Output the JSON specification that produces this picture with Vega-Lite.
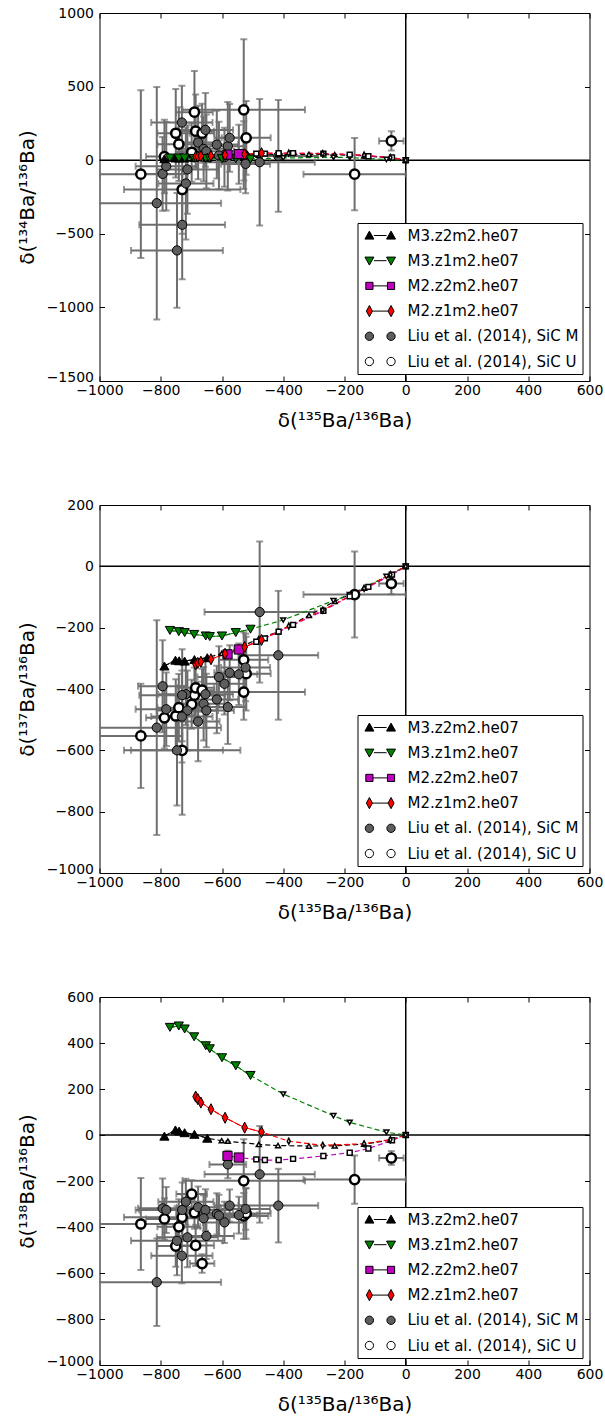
{
  "$schema": "https://vega.github.io/schema/vega-lite/v6.json",
  "background": "white",
  "padding": {"left": 16.5, "top": 5, "right": 3, "bottom": 5},
  "spacing": 66,
  "config": {
    "font": "DejaVu Sans",
    "view": {"stroke": "black", "strokeWidth": 1},
    "axis": {"grid": false, "domain": false, "format": "d", "tickColor": "black", "tickWidth": 1, "tickSize": -5, "labelFont": "DejaVu Sans", "labelFontSize": 14, "labelColor": "black", "titleFont": "DejaVu Sans", "titleFontSize": 20, "titleFontWeight": "normal", "titleColor": "black", "labelFlush": false, "labelOverlap": false},
    "axisX": {"labelPadding": 7.5, "titlePadding": 13},
    "axisY": {"labelPadding": 11, "titlePadding": 9},
    "legend": {"title": null, "orient": "bottom-right", "offset": 7, "strokeColor": "black", "fillColor": "white", "padding": 4, "labelFont": "DejaVu Sans", "labelFontSize": 15, "labelColor": "black", "labelLimit": 300, "symbolSize": 256, "labelOffset": 29, "rowPadding": 8.2, "cornerRadius": 0, "symbolOpacity": 1}
  },
  "datasets": {
    "series": [
      {"s": "M3.z2m2.he07"}, {"s": "M3.z1m2.he07"}, {"s": "M2.z2m2.he07"}, {"s": "M2.z1m2.he07"}, {"s": "Liu et al. (2014), SiC M"}, {"s": "Liu et al. (2014), SiC U"}
    ],
    "liu": [
      {"s": "Liu et al. (2014), SiC U", "x": -865, "xe": 135, "y134": -95, "e134": 570, "y137": -553, "e137": 170, "y138": -387, "e138": 200},
      {"s": "Liu et al. (2014), SiC U", "x": -788, "xe": 60, "y134": 25, "e134": 250, "y137": -494, "e137": 100, "y138": -365, "e138": 90},
      {"s": "Liu et al. (2014), SiC U", "x": -751, "xe": 60, "y134": 183, "e134": 300, "y137": -488, "e137": 120, "y138": -483, "e138": 90},
      {"s": "Liu et al. (2014), SiC U", "x": -741, "xe": 70, "y134": 109, "e134": 250, "y137": -461, "e137": 110, "y138": -399, "e138": 120},
      {"s": "Liu et al. (2014), SiC U", "x": -730, "xe": 190, "y134": -199, "e134": 300, "y137": -600, "e137": 210, "y138": -358, "e138": 100},
      {"s": "Liu et al. (2014), SiC U", "x": -699, "xe": 50, "y134": 54, "e134": 200, "y137": -450, "e137": 80, "y138": -257, "e138": 60},
      {"s": "Liu et al. (2014), SiC U", "x": -690, "xe": 60, "y134": 326, "e134": 280, "y137": -420, "e137": 90, "y138": -338, "e138": 70},
      {"s": "Liu et al. (2014), SiC U", "x": -686, "xe": 60, "y134": 197, "e134": 250, "y137": -396, "e137": 90, "y138": -480, "e138": 90},
      {"s": "Liu et al. (2014), SiC U", "x": -665, "xe": 40, "y134": 183, "e134": 200, "y137": -404, "e137": 70, "y138": -559, "e138": 40},
      {"s": "Liu et al. (2014), SiC U", "x": -529, "xe": 200, "y134": 342, "e134": 480, "y137": -410, "e137": 90, "y138": -199, "e138": 180},
      {"s": "Liu et al. (2014), SiC U", "x": -529, "xe": 80, "y134": 34, "e134": 230, "y137": -305, "e137": 90, "y138": -352, "e138": 100},
      {"s": "Liu et al. (2014), SiC U", "x": -521, "xe": 80, "y134": 152, "e134": 250, "y137": -350, "e137": 120, "y138": -341, "e138": 110},
      {"s": "Liu et al. (2014), SiC U", "x": -167, "xe": 167, "y134": -95, "e134": 245, "y137": -92, "e137": 140, "y138": -194, "e138": 105},
      {"s": "Liu et al. (2014), SiC U", "x": -47, "xe": 40, "y134": 131, "e134": 65, "y137": -56, "e137": 35, "y138": -100, "e138": 30},
      {"s": "Liu et al. (2014), SiC M", "x": -581, "xe": 60, "y134": 95, "e134": 300, "y137": -459, "e137": 120, "y138": -128, "e138": 60},
      {"s": "Liu et al. (2014), SiC M", "x": -477, "xe": 180, "y134": -14, "e134": 430, "y137": -149, "e137": 230, "y138": -171, "e138": 210},
      {"s": "Liu et al. (2014), SiC M", "x": -416, "xe": 130, "y134": 29, "e134": 380, "y137": -290, "e137": 210, "y138": -307, "e138": 160},
      {"s": "Liu et al. (2014), SiC M", "x": -794, "xe": 80, "y134": -93, "e134": 250, "y137": -391, "e137": 150, "y138": -319, "e138": 130},
      {"s": "Liu et al. (2014), SiC M", "x": -782, "xe": 100, "y134": -41, "e134": 300, "y137": -466, "e137": 120, "y138": -326, "e138": 100},
      {"s": "Liu et al. (2014), SiC M", "x": -718, "xe": 90, "y134": -158, "e134": 380, "y137": -417, "e137": 100, "y138": -290, "e138": 100},
      {"s": "Liu et al. (2014), SiC M", "x": -730, "xe": 140, "y134": -439, "e134": 370, "y137": -420, "e137": 150, "y138": -326, "e138": 120},
      {"s": "Liu et al. (2014), SiC M", "x": -678, "xe": 70, "y134": 120, "e134": 250, "y137": -506, "e137": 130, "y138": -314, "e138": 90},
      {"s": "Liu et al. (2014), SiC M", "x": -654, "xe": 90, "y134": 206, "e134": 250, "y137": -417, "e137": 110, "y138": -326, "e138": 90},
      {"s": "Liu et al. (2014), SiC M", "x": -660, "xe": 80, "y134": 77, "e134": 220, "y137": -448, "e137": 120, "y138": -362, "e138": 100},
      {"s": "Liu et al. (2014), SiC M", "x": -617, "xe": 70, "y134": 106, "e134": 230, "y137": -434, "e137": 110, "y138": -343, "e138": 90},
      {"s": "Liu et al. (2014), SiC M", "x": -592, "xe": 70, "y134": 20, "e134": 200, "y137": -383, "e137": 100, "y138": -380, "e138": 90},
      {"s": "Liu et al. (2014), SiC M", "x": -575, "xe": 50, "y134": 152, "e134": 230, "y137": -347, "e137": 90, "y138": -307, "e138": 70},
      {"s": "Liu et al. (2014), SiC M", "x": -545, "xe": 60, "y134": 40, "e134": 200, "y137": -352, "e137": 100, "y138": -348, "e138": 80},
      {"s": "Liu et al. (2014), SiC M", "x": -523, "xe": 80, "y134": -25, "e134": 200, "y137": -330, "e137": 110, "y138": -322, "e138": 90},
      {"s": "Liu et al. (2014), SiC M", "x": -713, "xe": 100, "y134": -63, "e134": 300, "y137": -470, "e137": 130, "y138": -445, "e138": 130},
      {"s": "Liu et al. (2014), SiC M", "x": -651, "xe": 90, "y134": 60, "e134": 250, "y137": -470, "e137": 120, "y138": -439, "e138": 100},
      {"s": "Liu et al. (2014), SiC M", "x": -747, "xe": 150, "y134": -613, "e134": 390, "y137": -600, "e137": 180, "y138": -460, "e138": 150},
      {"s": "Liu et al. (2014), SiC M", "x": -731, "xe": 100, "y134": 256, "e134": 250, "y137": -490, "e137": 150, "y138": -525, "e138": 120},
      {"s": "Liu et al. (2014), SiC M", "x": -813, "xe": 210, "y134": -292, "e134": 790, "y137": -526, "e137": 350, "y138": -640, "e138": 190},
      {"s": "Liu et al. (2014), SiC M", "x": -610, "xe": 70, "y134": 32, "e134": 230, "y137": -361, "e137": 100, "y138": -350, "e138": 90}
    ],
    "models": [
      {"s": "M3.z2m2.he07", "ph": "C", "x": -788, "y134": 10, "y137": -325, "y138": -5},
      {"s": "M3.z2m2.he07", "ph": "C", "x": -752, "y134": 15, "y137": -306, "y138": 22},
      {"s": "M3.z2m2.he07", "ph": "C", "x": -740, "y134": 15, "y137": -308, "y138": 17},
      {"s": "M3.z2m2.he07", "ph": "C", "x": -722, "y134": 15, "y137": -309, "y138": 10},
      {"s": "M3.z2m2.he07", "ph": "C", "x": -690, "y134": 18, "y137": -304, "y138": 3},
      {"s": "M3.z2m2.he07", "ph": "C", "x": -648, "y134": 20, "y137": -298, "y138": -14},
      {"s": "M3.z2m2.he07", "ph": "O", "x": -601, "y134": 25, "y137": -284, "y138": -25},
      {"s": "M3.z2m2.he07", "ph": "O", "x": -581, "y134": 25, "y137": -282, "y138": -27},
      {"s": "M3.z2m2.he07", "ph": "O", "x": -480, "y134": 35, "y137": -236, "y138": -41},
      {"s": "M3.z2m2.he07", "ph": "O", "x": -417, "y134": 38, "y137": -214, "y138": -46},
      {"s": "M3.z2m2.he07", "ph": "O", "x": -316, "y134": 40, "y137": -160, "y138": -48},
      {"s": "M3.z2m2.he07", "ph": "O", "x": -232, "y134": 38, "y137": -114, "y138": -47},
      {"s": "M3.z2m2.he07", "ph": "O", "x": -136, "y134": 30, "y137": -71, "y138": -40},
      {"s": "M3.z2m2.he07", "ph": "O", "x": -50, "y134": 15, "y137": -28, "y138": -22},
      {"s": "M3.z2m2.he07", "ph": "O", "x": 0, "y134": 0, "y137": 0, "y138": 0},
      {"s": "M3.z1m2.he07", "ph": "C", "x": -770, "y134": 15, "y137": -209, "y138": 468},
      {"s": "M3.z1m2.he07", "ph": "C", "x": -741, "y134": 15, "y137": -213, "y138": 474},
      {"s": "M3.z1m2.he07", "ph": "C", "x": -722, "y134": 15, "y137": -216, "y138": 461},
      {"s": "M3.z1m2.he07", "ph": "C", "x": -691, "y134": 12, "y137": -222, "y138": 427},
      {"s": "M3.z1m2.he07", "ph": "C", "x": -653, "y134": 12, "y137": -227, "y138": 388},
      {"s": "M3.z1m2.he07", "ph": "C", "x": -640, "y134": 12, "y137": -229, "y138": 375},
      {"s": "M3.z1m2.he07", "ph": "C", "x": -600, "y134": 10, "y137": -227, "y138": 336},
      {"s": "M3.z1m2.he07", "ph": "C", "x": -555, "y134": 10, "y137": -216, "y138": 301},
      {"s": "M3.z1m2.he07", "ph": "C", "x": -507, "y134": 8, "y137": -205, "y138": 259},
      {"s": "M3.z1m2.he07", "ph": "O", "x": -400, "y134": 15, "y137": -175, "y138": 178},
      {"s": "M3.z1m2.he07", "ph": "O", "x": -236, "y134": 20, "y137": -112, "y138": 84},
      {"s": "M3.z1m2.he07", "ph": "O", "x": -183, "y134": 18, "y137": -92, "y138": 55},
      {"s": "M3.z1m2.he07", "ph": "O", "x": -63, "y134": 5, "y137": -33, "y138": 12},
      {"s": "M3.z1m2.he07", "ph": "O", "x": 0, "y134": 0, "y137": 0, "y138": 0},
      {"s": "M2.z2m2.he07", "ph": "C", "x": -582, "y134": 38, "y137": -287, "y138": -91},
      {"s": "M2.z2m2.he07", "ph": "C", "x": -545, "y134": 42, "y137": -271, "y138": -98},
      {"s": "M2.z2m2.he07", "ph": "O", "x": -488, "y134": 45, "y137": -246, "y138": -106},
      {"s": "M2.z2m2.he07", "ph": "O", "x": -460, "y134": 45, "y137": -235, "y138": -109},
      {"s": "M2.z2m2.he07", "ph": "O", "x": -415, "y134": 47, "y137": -213, "y138": -109},
      {"s": "M2.z2m2.he07", "ph": "O", "x": -368, "y134": 48, "y137": -191, "y138": -104},
      {"s": "M2.z2m2.he07", "ph": "O", "x": -269, "y134": 45, "y137": -145, "y138": -91},
      {"s": "M2.z2m2.he07", "ph": "O", "x": -183, "y134": 38, "y137": -98, "y138": -77},
      {"s": "M2.z2m2.he07", "ph": "O", "x": -122, "y134": 27, "y137": -67, "y138": -59},
      {"s": "M2.z2m2.he07", "ph": "O", "x": -45, "y134": 18, "y137": -27, "y138": -23},
      {"s": "M2.z2m2.he07", "ph": "O", "x": 0, "y134": 0, "y137": 0, "y138": 0},
      {"s": "M2.z1m2.he07", "ph": "C", "x": -686, "y134": 25, "y137": -320, "y138": 167},
      {"s": "M2.z1m2.he07", "ph": "C", "x": -679, "y134": 25, "y137": -315, "y138": 156},
      {"s": "M2.z1m2.he07", "ph": "C", "x": -669, "y134": 28, "y137": -311, "y138": 141},
      {"s": "M2.z1m2.he07", "ph": "C", "x": -636, "y134": 30, "y137": -303, "y138": 112},
      {"s": "M2.z1m2.he07", "ph": "C", "x": -590, "y134": 35, "y137": -285, "y138": 75},
      {"s": "M2.z1m2.he07", "ph": "C", "x": -526, "y134": 40, "y137": -263, "y138": 32},
      {"s": "M2.z1m2.he07", "ph": "C", "x": -471, "y134": 48, "y137": -240, "y138": 13},
      {"s": "M2.z1m2.he07", "ph": "O", "x": -382, "y134": 48, "y137": -195, "y138": -27},
      {"s": "M2.z1m2.he07", "ph": "O", "x": -271, "y134": 45, "y137": -143, "y138": -45},
      {"s": "M2.z1m2.he07", "ph": "O", "x": -136, "y134": 35, "y137": -72, "y138": -38},
      {"s": "M2.z1m2.he07", "ph": "O", "x": -50, "y134": 18, "y137": -27, "y138": -20},
      {"s": "M2.z1m2.he07", "ph": "O", "x": 0, "y134": 0, "y137": 0, "y138": 0}
    ]
  },
  "resolve": {"scale": {"fill": "independent", "stroke": "independent", "shape": "independent", "strokeWidth": "independent"}, "legend": {"fill": "independent", "shape": "independent", "strokeWidth": "independent"}},
  "vconcat": [
    {
      "width": 490, "height": 368,
      "resolve": {"axis": {"x": "independent", "y": "independent"}},
      "layer": [
        {"data": {"values": [{"z": 0}]}, "mark": {"type": "rule", "color": "black", "strokeWidth": 1.5},
         "encoding": {"x": {"field": "z", "type": "quantitative", "scale": {"domain": [-1000, 600], "nice": false, "zero": false}, "axis": {"orient": "top", "labels": false, "title": null, "values": [-1000, -800, -600, -400, -200, 0, 200, 400, 600]}}}},
        {"data": {"values": [{"z": 0}]}, "mark": {"type": "rule", "color": "black", "strokeWidth": 1.5},
         "encoding": {"y": {"field": "z", "type": "quantitative", "scale": {"domain": [-1500, 1000], "nice": false, "zero": false}, "axis": {"orient": "right", "labels": false, "title": null, "values": [-1500, -1000, -500, 0, 500, 1000]}}}},
        {"data": {"name": "liu"}, "mark": {"type": "errorbar", "ticks": true, "size": 7, "thickness": 2, "color": "#6e6e6e", "clip": true},
         "encoding": {"x": {"field": "x", "type": "quantitative", "scale": {"domain": [-1000, 600], "nice": false, "zero": false}, "axis": null}, "xError": {"field": "xe"}, "y": {"field": "y134", "type": "quantitative", "scale": {"domain": [-1500, 1000], "nice": false, "zero": false}, "axis": null}}},
        {"data": {"name": "liu"}, "mark": {"type": "errorbar", "ticks": true, "size": 7, "thickness": 2, "color": "#6e6e6e", "clip": true},
         "encoding": {"x": {"field": "x", "type": "quantitative", "scale": {"domain": [-1000, 600], "nice": false, "zero": false}, "axis": null}, "y": {"field": "y134", "type": "quantitative", "scale": {"domain": [-1500, 1000], "nice": false, "zero": false}, "axis": null}, "yError": {"field": "e134"}}},
        {"data": {"name": "models"}, "mark": {"type": "line", "strokeWidth": 1.2, "strokeDash": [5, 3]},
         "encoding": {"x": {"field": "x", "type": "quantitative", "scale": {"domain": [-1000, 600], "nice": false, "zero": false}, "axis": null}, "y": {"field": "y134", "type": "quantitative", "scale": {"domain": [-1500, 1000], "nice": false, "zero": false}, "axis": null},
           "stroke": {"field": "s", "type": "nominal", "scale": {"domain": ["M3.z2m2.he07", "M3.z1m2.he07", "M2.z2m2.he07", "M2.z1m2.he07"], "range": ["black", "#008000", "#bf00bf", "#ff0000"]}, "legend": null}}},
        {"data": {"name": "models"}, "transform": [{"filter": "datum.ph == 'C'"}], "mark": {"type": "line", "strokeWidth": 1},
         "encoding": {"x": {"field": "x", "type": "quantitative", "scale": {"domain": [-1000, 600], "nice": false, "zero": false}, "axis": null}, "y": {"field": "y134", "type": "quantitative", "scale": {"domain": [-1500, 1000], "nice": false, "zero": false}, "axis": null},
           "stroke": {"field": "s", "type": "nominal", "scale": {"domain": ["M3.z2m2.he07", "M3.z1m2.he07", "M2.z2m2.he07", "M2.z1m2.he07"], "range": ["black", "#008000", "#bf00bf", "#ff0000"]}, "legend": null}}},
        {"data": {"name": "liu"}, "mark": {"type": "point", "shape": "circle", "filled": true, "stroke": "black", "opacity": 1, "size": 85},
         "encoding": {"x": {"field": "x", "type": "quantitative", "scale": {"domain": [-1000, 600], "nice": false, "zero": false}, "axis": {"orient": "bottom", "title": "δ(¹³⁵Ba/¹³⁶Ba)", "values": [-1000, -800, -600, -400, -200, 0, 200, 400, 600]}},
           "y": {"field": "y134", "type": "quantitative", "scale": {"domain": [-1500, 1000], "nice": false, "zero": false}, "axis": {"orient": "left", "title": "δ(¹³⁴Ba/¹³⁶Ba)", "values": [-1500, -1000, -500, 0, 500, 1000], "labelBaseline": {"condition": {"test": "datum.value == -1500", "value": "alphabetic"}, "value": "middle"}}},
           "fill": {"field": "s", "type": "nominal", "scale": {"domain": ["M3.z2m2.he07", "M3.z1m2.he07", "M2.z2m2.he07", "M2.z1m2.he07", "Liu et al. (2014), SiC M", "Liu et al. (2014), SiC U"], "range": ["black", "#008000", "#bf00bf", "#ff0000", "#5e5e5e", "white"]}},
           "stroke": {"value": "black"},
           "strokeWidth": {"condition": {"test": "datum.s == 'Liu et al. (2014), SiC U'", "value": 2.5}, "value": 1}}},
        {"data": {"name": "models"}, "mark": {"type": "point", "filled": true, "stroke": "black", "opacity": 1},
         "encoding": {"x": {"field": "x", "type": "quantitative", "scale": {"domain": [-1000, 600], "nice": false, "zero": false}, "axis": null}, "y": {"field": "y134", "type": "quantitative", "scale": {"domain": [-1500, 1000], "nice": false, "zero": false}, "axis": null},
           "fill": {"condition": {"test": "datum.ph == 'O'", "value": "white"}, "field": "s", "type": "nominal", "scale": {"domain": ["M3.z2m2.he07", "M3.z1m2.he07", "M2.z2m2.he07", "M2.z1m2.he07", "Liu et al. (2014), SiC M", "Liu et al. (2014), SiC U"], "range": ["black", "#008000", "#bf00bf", "#ff0000", "#5e5e5e", "white"]}},
           "stroke": {"value": "black"},
           "shape": {"condition": [{"test": "datum.s == 'M3.z2m2.he07'", "value": "triangle-up"}, {"test": "datum.s == 'M3.z1m2.he07'", "value": "triangle-down"}, {"test": "datum.s == 'M2.z2m2.he07'", "value": "square"}], "value": "M0,-1.2L0.62,0L0,1.2L-0.62,0Z"},
           "size": {"condition": {"test": "datum.ph == 'O'", "value": 24}, "value": 85},
           "strokeWidth": {"condition": {"test": "datum.ph == 'O'", "value": 1.5}, "value": 1}}},
        {"data": {"name": "series"}, "mark": {"type": "point", "filled": true, "stroke": "black", "opacity": 0},
         "encoding": {
           "fill": {"field": "s", "type": "nominal", "scale": {"domain": ["M3.z2m2.he07", "M3.z1m2.he07", "M2.z2m2.he07", "M2.z1m2.he07", "Liu et al. (2014), SiC M", "Liu et al. (2014), SiC U"], "range": ["black", "#008000", "#bf00bf", "#ff0000", "#5e5e5e", "white"]}},
           "stroke": {"value": "black"},
           "strokeWidth": {"field": "s", "type": "ordinal", "scale": {"domain": ["M3.z2m2.he07", "M3.z1m2.he07", "M2.z2m2.he07", "M2.z1m2.he07", "Liu et al. (2014), SiC M", "Liu et al. (2014), SiC U"], "range": [1, 1, 1, 1, 1, 2.2]}},
           "shape": {"field": "s", "type": "nominal", "scale": {"domain": ["M3.z2m2.he07", "M3.z1m2.he07", "M2.z2m2.he07", "M2.z1m2.he07", "Liu et al. (2014), SiC M", "Liu et al. (2014), SiC U"], "range": ["M-0.635,0.45L-0.075,-0.55L0.485,0.45Z M2.07,0.45L2.63,-0.55L3.19,0.45Z M0.485,0L2.07,0", "M-0.635,-0.45L-0.075,0.55L0.485,-0.45Z M2.07,-0.45L2.63,0.55L3.19,-0.45Z M0.485,0L2.07,0", "M-0.525,-0.45H0.375V0.45H-0.525Z M2.18,-0.45H3.08V0.45H2.18Z M0.375,0L2.18,0", "M-0.075,-0.7L0.305,0L-0.075,0.7L-0.455,0Z M2.63,-0.7L3.01,0L2.63,0.7L2.25,0Z M0.305,0L2.25,0", "M-0.595,0A0.52,0.52 0 1,0 0.445,0A0.52,0.52 0 1,0 -0.595,0Z M2.11,0A0.52,0.52 0 1,0 3.15,0A0.52,0.52 0 1,0 2.11,0Z", "M-0.595,0A0.52,0.52 0 1,0 0.445,0A0.52,0.52 0 1,0 -0.595,0Z M2.11,0A0.52,0.52 0 1,0 3.15,0A0.52,0.52 0 1,0 2.11,0Z"]}}}}
      ]
    },
    {
      "width": 490, "height": 368,
      "resolve": {"axis": {"x": "independent", "y": "independent"}},
      "layer": [
        {"data": {"values": [{"z": 0}]}, "mark": {"type": "rule", "color": "black", "strokeWidth": 1.5},
         "encoding": {"x": {"field": "z", "type": "quantitative", "scale": {"domain": [-1000, 600], "nice": false, "zero": false}, "axis": {"orient": "top", "labels": false, "title": null, "values": [-1000, -800, -600, -400, -200, 0, 200, 400, 600]}}}},
        {"data": {"values": [{"z": 0}]}, "mark": {"type": "rule", "color": "black", "strokeWidth": 1.5},
         "encoding": {"y": {"field": "z", "type": "quantitative", "scale": {"domain": [-1000, 200], "nice": false, "zero": false}, "axis": {"orient": "right", "labels": false, "title": null, "values": [-1000, -800, -600, -400, -200, 0, 200]}}}},
        {"data": {"name": "liu"}, "mark": {"type": "errorbar", "ticks": true, "size": 7, "thickness": 2, "color": "#6e6e6e", "clip": true},
         "encoding": {"x": {"field": "x", "type": "quantitative", "scale": {"domain": [-1000, 600], "nice": false, "zero": false}, "axis": null}, "xError": {"field": "xe"}, "y": {"field": "y137", "type": "quantitative", "scale": {"domain": [-1000, 200], "nice": false, "zero": false}, "axis": null}}},
        {"data": {"name": "liu"}, "mark": {"type": "errorbar", "ticks": true, "size": 7, "thickness": 2, "color": "#6e6e6e", "clip": true},
         "encoding": {"x": {"field": "x", "type": "quantitative", "scale": {"domain": [-1000, 600], "nice": false, "zero": false}, "axis": null}, "y": {"field": "y137", "type": "quantitative", "scale": {"domain": [-1000, 200], "nice": false, "zero": false}, "axis": null}, "yError": {"field": "e137"}}},
        {"data": {"name": "models"}, "mark": {"type": "line", "strokeWidth": 1.2, "strokeDash": [5, 3]},
         "encoding": {"x": {"field": "x", "type": "quantitative", "scale": {"domain": [-1000, 600], "nice": false, "zero": false}, "axis": null}, "y": {"field": "y137", "type": "quantitative", "scale": {"domain": [-1000, 200], "nice": false, "zero": false}, "axis": null},
           "stroke": {"field": "s", "type": "nominal", "scale": {"domain": ["M3.z2m2.he07", "M3.z1m2.he07", "M2.z2m2.he07", "M2.z1m2.he07"], "range": ["black", "#008000", "#bf00bf", "#ff0000"]}, "legend": null}}},
        {"data": {"name": "models"}, "transform": [{"filter": "datum.ph == 'C'"}], "mark": {"type": "line", "strokeWidth": 1},
         "encoding": {"x": {"field": "x", "type": "quantitative", "scale": {"domain": [-1000, 600], "nice": false, "zero": false}, "axis": null}, "y": {"field": "y137", "type": "quantitative", "scale": {"domain": [-1000, 200], "nice": false, "zero": false}, "axis": null},
           "stroke": {"field": "s", "type": "nominal", "scale": {"domain": ["M3.z2m2.he07", "M3.z1m2.he07", "M2.z2m2.he07", "M2.z1m2.he07"], "range": ["black", "#008000", "#bf00bf", "#ff0000"]}, "legend": null}}},
        {"data": {"name": "liu"}, "mark": {"type": "point", "shape": "circle", "filled": true, "stroke": "black", "opacity": 1, "size": 85},
         "encoding": {"x": {"field": "x", "type": "quantitative", "scale": {"domain": [-1000, 600], "nice": false, "zero": false}, "axis": {"orient": "bottom", "title": "δ(¹³⁵Ba/¹³⁶Ba)", "values": [-1000, -800, -600, -400, -200, 0, 200, 400, 600]}},
           "y": {"field": "y137", "type": "quantitative", "scale": {"domain": [-1000, 200], "nice": false, "zero": false}, "axis": {"orient": "left", "title": "δ(¹³⁷Ba/¹³⁶Ba)", "values": [-1000, -800, -600, -400, -200, 0, 200], "labelBaseline": {"condition": {"test": "datum.value == -1000", "value": "alphabetic"}, "value": "middle"}}},
           "fill": {"field": "s", "type": "nominal", "scale": {"domain": ["M3.z2m2.he07", "M3.z1m2.he07", "M2.z2m2.he07", "M2.z1m2.he07", "Liu et al. (2014), SiC M", "Liu et al. (2014), SiC U"], "range": ["black", "#008000", "#bf00bf", "#ff0000", "#5e5e5e", "white"]}},
           "stroke": {"value": "black"},
           "strokeWidth": {"condition": {"test": "datum.s == 'Liu et al. (2014), SiC U'", "value": 2.5}, "value": 1}}},
        {"data": {"name": "models"}, "mark": {"type": "point", "filled": true, "stroke": "black", "opacity": 1},
         "encoding": {"x": {"field": "x", "type": "quantitative", "scale": {"domain": [-1000, 600], "nice": false, "zero": false}, "axis": null}, "y": {"field": "y137", "type": "quantitative", "scale": {"domain": [-1000, 200], "nice": false, "zero": false}, "axis": null},
           "fill": {"condition": {"test": "datum.ph == 'O'", "value": "white"}, "field": "s", "type": "nominal", "scale": {"domain": ["M3.z2m2.he07", "M3.z1m2.he07", "M2.z2m2.he07", "M2.z1m2.he07", "Liu et al. (2014), SiC M", "Liu et al. (2014), SiC U"], "range": ["black", "#008000", "#bf00bf", "#ff0000", "#5e5e5e", "white"]}},
           "stroke": {"value": "black"},
           "shape": {"condition": [{"test": "datum.s == 'M3.z2m2.he07'", "value": "triangle-up"}, {"test": "datum.s == 'M3.z1m2.he07'", "value": "triangle-down"}, {"test": "datum.s == 'M2.z2m2.he07'", "value": "square"}], "value": "M0,-1.2L0.62,0L0,1.2L-0.62,0Z"},
           "size": {"condition": {"test": "datum.ph == 'O'", "value": 24}, "value": 85},
           "strokeWidth": {"condition": {"test": "datum.ph == 'O'", "value": 1.5}, "value": 1}}},
        {"data": {"name": "series"}, "mark": {"type": "point", "filled": true, "stroke": "black", "opacity": 0},
         "encoding": {
           "fill": {"field": "s", "type": "nominal", "scale": {"domain": ["M3.z2m2.he07", "M3.z1m2.he07", "M2.z2m2.he07", "M2.z1m2.he07", "Liu et al. (2014), SiC M", "Liu et al. (2014), SiC U"], "range": ["black", "#008000", "#bf00bf", "#ff0000", "#5e5e5e", "white"]}},
           "stroke": {"value": "black"},
           "strokeWidth": {"field": "s", "type": "ordinal", "scale": {"domain": ["M3.z2m2.he07", "M3.z1m2.he07", "M2.z2m2.he07", "M2.z1m2.he07", "Liu et al. (2014), SiC M", "Liu et al. (2014), SiC U"], "range": [1, 1, 1, 1, 1, 2.2]}},
           "shape": {"field": "s", "type": "nominal", "scale": {"domain": ["M3.z2m2.he07", "M3.z1m2.he07", "M2.z2m2.he07", "M2.z1m2.he07", "Liu et al. (2014), SiC M", "Liu et al. (2014), SiC U"], "range": ["M-0.635,0.45L-0.075,-0.55L0.485,0.45Z M2.07,0.45L2.63,-0.55L3.19,0.45Z M0.485,0L2.07,0", "M-0.635,-0.45L-0.075,0.55L0.485,-0.45Z M2.07,-0.45L2.63,0.55L3.19,-0.45Z M0.485,0L2.07,0", "M-0.525,-0.45H0.375V0.45H-0.525Z M2.18,-0.45H3.08V0.45H2.18Z M0.375,0L2.18,0", "M-0.075,-0.7L0.305,0L-0.075,0.7L-0.455,0Z M2.63,-0.7L3.01,0L2.63,0.7L2.25,0Z M0.305,0L2.25,0", "M-0.595,0A0.52,0.52 0 1,0 0.445,0A0.52,0.52 0 1,0 -0.595,0Z M2.11,0A0.52,0.52 0 1,0 3.15,0A0.52,0.52 0 1,0 2.11,0Z", "M-0.595,0A0.52,0.52 0 1,0 0.445,0A0.52,0.52 0 1,0 -0.595,0Z M2.11,0A0.52,0.52 0 1,0 3.15,0A0.52,0.52 0 1,0 2.11,0Z"]}}}}
      ]
    },
    {
      "width": 490, "height": 368,
      "resolve": {"axis": {"x": "independent", "y": "independent"}},
      "layer": [
        {"data": {"values": [{"z": 0}]}, "mark": {"type": "rule", "color": "black", "strokeWidth": 1.5},
         "encoding": {"x": {"field": "z", "type": "quantitative", "scale": {"domain": [-1000, 600], "nice": false, "zero": false}, "axis": {"orient": "top", "labels": false, "title": null, "values": [-1000, -800, -600, -400, -200, 0, 200, 400, 600]}}}},
        {"data": {"values": [{"z": 0}]}, "mark": {"type": "rule", "color": "black", "strokeWidth": 1.5},
         "encoding": {"y": {"field": "z", "type": "quantitative", "scale": {"domain": [-1000, 600], "nice": false, "zero": false}, "axis": {"orient": "right", "labels": false, "title": null, "values": [-1000, -800, -600, -400, -200, 0, 200, 400, 600]}}}},
        {"data": {"name": "liu"}, "mark": {"type": "errorbar", "ticks": true, "size": 7, "thickness": 2, "color": "#6e6e6e", "clip": true},
         "encoding": {"x": {"field": "x", "type": "quantitative", "scale": {"domain": [-1000, 600], "nice": false, "zero": false}, "axis": null}, "xError": {"field": "xe"}, "y": {"field": "y138", "type": "quantitative", "scale": {"domain": [-1000, 600], "nice": false, "zero": false}, "axis": null}}},
        {"data": {"name": "liu"}, "mark": {"type": "errorbar", "ticks": true, "size": 7, "thickness": 2, "color": "#6e6e6e", "clip": true},
         "encoding": {"x": {"field": "x", "type": "quantitative", "scale": {"domain": [-1000, 600], "nice": false, "zero": false}, "axis": null}, "y": {"field": "y138", "type": "quantitative", "scale": {"domain": [-1000, 600], "nice": false, "zero": false}, "axis": null}, "yError": {"field": "e138"}}},
        {"data": {"name": "models"}, "mark": {"type": "line", "strokeWidth": 1.2, "strokeDash": [5, 3]},
         "encoding": {"x": {"field": "x", "type": "quantitative", "scale": {"domain": [-1000, 600], "nice": false, "zero": false}, "axis": null}, "y": {"field": "y138", "type": "quantitative", "scale": {"domain": [-1000, 600], "nice": false, "zero": false}, "axis": null},
           "stroke": {"field": "s", "type": "nominal", "scale": {"domain": ["M3.z2m2.he07", "M3.z1m2.he07", "M2.z2m2.he07", "M2.z1m2.he07"], "range": ["black", "#008000", "#bf00bf", "#ff0000"]}, "legend": null}}},
        {"data": {"name": "models"}, "transform": [{"filter": "datum.ph == 'C'"}], "mark": {"type": "line", "strokeWidth": 1},
         "encoding": {"x": {"field": "x", "type": "quantitative", "scale": {"domain": [-1000, 600], "nice": false, "zero": false}, "axis": null}, "y": {"field": "y138", "type": "quantitative", "scale": {"domain": [-1000, 600], "nice": false, "zero": false}, "axis": null},
           "stroke": {"field": "s", "type": "nominal", "scale": {"domain": ["M3.z2m2.he07", "M3.z1m2.he07", "M2.z2m2.he07", "M2.z1m2.he07"], "range": ["black", "#008000", "#bf00bf", "#ff0000"]}, "legend": null}}},
        {"data": {"name": "liu"}, "mark": {"type": "point", "shape": "circle", "filled": true, "stroke": "black", "opacity": 1, "size": 85},
         "encoding": {"x": {"field": "x", "type": "quantitative", "scale": {"domain": [-1000, 600], "nice": false, "zero": false}, "axis": {"orient": "bottom", "title": "δ(¹³⁵Ba/¹³⁶Ba)", "values": [-1000, -800, -600, -400, -200, 0, 200, 400, 600]}},
           "y": {"field": "y138", "type": "quantitative", "scale": {"domain": [-1000, 600], "nice": false, "zero": false}, "axis": {"orient": "left", "title": "δ(¹³⁸Ba/¹³⁶Ba)", "values": [-1000, -800, -600, -400, -200, 0, 200, 400, 600], "labelBaseline": {"condition": {"test": "datum.value == -1000", "value": "alphabetic"}, "value": "middle"}}},
           "fill": {"field": "s", "type": "nominal", "scale": {"domain": ["M3.z2m2.he07", "M3.z1m2.he07", "M2.z2m2.he07", "M2.z1m2.he07", "Liu et al. (2014), SiC M", "Liu et al. (2014), SiC U"], "range": ["black", "#008000", "#bf00bf", "#ff0000", "#5e5e5e", "white"]}},
           "stroke": {"value": "black"},
           "strokeWidth": {"condition": {"test": "datum.s == 'Liu et al. (2014), SiC U'", "value": 2.5}, "value": 1}}},
        {"data": {"name": "models"}, "mark": {"type": "point", "filled": true, "stroke": "black", "opacity": 1},
         "encoding": {"x": {"field": "x", "type": "quantitative", "scale": {"domain": [-1000, 600], "nice": false, "zero": false}, "axis": null}, "y": {"field": "y138", "type": "quantitative", "scale": {"domain": [-1000, 600], "nice": false, "zero": false}, "axis": null},
           "fill": {"condition": {"test": "datum.ph == 'O'", "value": "white"}, "field": "s", "type": "nominal", "scale": {"domain": ["M3.z2m2.he07", "M3.z1m2.he07", "M2.z2m2.he07", "M2.z1m2.he07", "Liu et al. (2014), SiC M", "Liu et al. (2014), SiC U"], "range": ["black", "#008000", "#bf00bf", "#ff0000", "#5e5e5e", "white"]}},
           "stroke": {"value": "black"},
           "shape": {"condition": [{"test": "datum.s == 'M3.z2m2.he07'", "value": "triangle-up"}, {"test": "datum.s == 'M3.z1m2.he07'", "value": "triangle-down"}, {"test": "datum.s == 'M2.z2m2.he07'", "value": "square"}], "value": "M0,-1.2L0.62,0L0,1.2L-0.62,0Z"},
           "size": {"condition": {"test": "datum.ph == 'O'", "value": 24}, "value": 85},
           "strokeWidth": {"condition": {"test": "datum.ph == 'O'", "value": 1.5}, "value": 1}}},
        {"data": {"name": "series"}, "mark": {"type": "point", "filled": true, "stroke": "black", "opacity": 0},
         "encoding": {
           "fill": {"field": "s", "type": "nominal", "scale": {"domain": ["M3.z2m2.he07", "M3.z1m2.he07", "M2.z2m2.he07", "M2.z1m2.he07", "Liu et al. (2014), SiC M", "Liu et al. (2014), SiC U"], "range": ["black", "#008000", "#bf00bf", "#ff0000", "#5e5e5e", "white"]}},
           "stroke": {"value": "black"},
           "strokeWidth": {"field": "s", "type": "ordinal", "scale": {"domain": ["M3.z2m2.he07", "M3.z1m2.he07", "M2.z2m2.he07", "M2.z1m2.he07", "Liu et al. (2014), SiC M", "Liu et al. (2014), SiC U"], "range": [1, 1, 1, 1, 1, 2.2]}},
           "shape": {"field": "s", "type": "nominal", "scale": {"domain": ["M3.z2m2.he07", "M3.z1m2.he07", "M2.z2m2.he07", "M2.z1m2.he07", "Liu et al. (2014), SiC M", "Liu et al. (2014), SiC U"], "range": ["M-0.635,0.45L-0.075,-0.55L0.485,0.45Z M2.07,0.45L2.63,-0.55L3.19,0.45Z M0.485,0L2.07,0", "M-0.635,-0.45L-0.075,0.55L0.485,-0.45Z M2.07,-0.45L2.63,0.55L3.19,-0.45Z M0.485,0L2.07,0", "M-0.525,-0.45H0.375V0.45H-0.525Z M2.18,-0.45H3.08V0.45H2.18Z M0.375,0L2.18,0", "M-0.075,-0.7L0.305,0L-0.075,0.7L-0.455,0Z M2.63,-0.7L3.01,0L2.63,0.7L2.25,0Z M0.305,0L2.25,0", "M-0.595,0A0.52,0.52 0 1,0 0.445,0A0.52,0.52 0 1,0 -0.595,0Z M2.11,0A0.52,0.52 0 1,0 3.15,0A0.52,0.52 0 1,0 2.11,0Z", "M-0.595,0A0.52,0.52 0 1,0 0.445,0A0.52,0.52 0 1,0 -0.595,0Z M2.11,0A0.52,0.52 0 1,0 3.15,0A0.52,0.52 0 1,0 2.11,0Z"]}}}}
      ]
    }
  ]
}
